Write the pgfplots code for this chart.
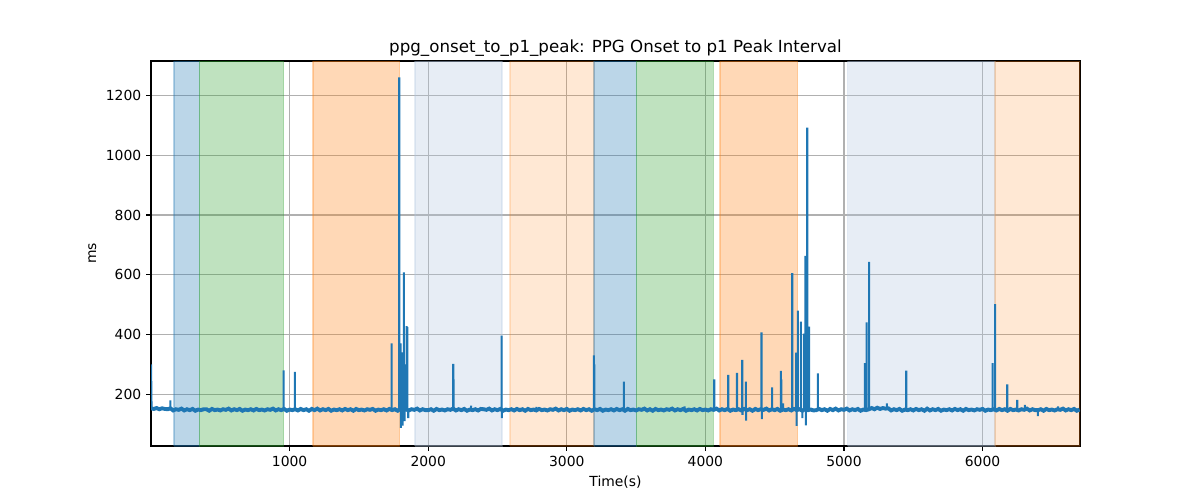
\documentclass[border=0pt]{standalone}
\usepackage{fontspec}
\setmainfont{DejaVu Sans}
\usepackage{pgfplots}
\pgfplotsset{compat=1.18}
\definecolor{tabblue}{HTML}{1F77B4}
\definecolor{tabgreen}{HTML}{2CA02C}
\definecolor{taborange}{HTML}{FF7F0E}
\definecolor{lsteel}{HTML}{B0C4DE}
\definecolor{gridgray}{HTML}{B0B0B0}
\begin{document}
\begin{tikzpicture}
\begin{axis}[
  at={(108.72pt,38.88pt)}, anchor=south west,
  scale only axis, width=668.88pt, height=277.2pt,
  xmin=0, xmax=6703, ymin=27, ymax=1315,
  xtick={1000,2000,3000,4000,5000,6000},
  ytick={200,400,600,800,1000,1200},
  /pgf/number format/assume math mode=true,
  /pgf/number format/1000 sep={},
  tick label style={font=\fontsize{10}{12}\selectfont},
  label style={font=\fontsize{10}{12}\selectfont},
  xlabel={Time(s)}, ylabel={ms},
  title={ppg\_onset\_to\_p1\_peak: PPG Onset to p1 Peak Interval},
  title style={font=\fontsize{12}{14}\selectfont, at={(0.5,1)}, anchor=south, yshift=-2.6pt, inner sep=0pt},
  grid=major,
  major grid style={color=gridgray, line width=0.8pt},
  axis line style={black, line width=0.8pt},
  tick style={black, line width=0.8pt},
  major tick length=3.5pt,
  tick align=outside,
  xtick pos=bottom, ytick pos=left,
  unbounded coords=jump,
]
% shaded spans
\addplot[draw=tabblue, draw opacity=0.3, line width=1pt, fill=tabblue, fill opacity=0.3] coordinates {(165,27)(348,27)(348,1315)(165,1315)(165,27)};
\addplot[draw=tabgreen, draw opacity=0.3, line width=1pt, fill=tabgreen, fill opacity=0.3] coordinates {(348,27)(957,27)(957,1315)(348,1315)(348,27)};
\addplot[draw=taborange, draw opacity=0.3, line width=1pt, fill=taborange, fill opacity=0.3] coordinates {(1168,27)(1794,27)(1794,1315)(1168,1315)(1168,27)};
\addplot[draw=lsteel, draw opacity=0.3, line width=1pt, fill=lsteel, fill opacity=0.3] coordinates {(1904,27)(2532,27)(2532,1315)(1904,1315)(1904,27)};
\addplot[draw=taborange, draw opacity=0.18, line width=1pt, fill=taborange, fill opacity=0.18] coordinates {(2590,27)(3196,27)(3196,1315)(2590,1315)(2590,27)};
\addplot[draw=tabblue, draw opacity=0.3, line width=1pt, fill=tabblue, fill opacity=0.3] coordinates {(3196,27)(3501,27)(3501,1315)(3196,1315)(3196,27)};
\addplot[draw=tabgreen, draw opacity=0.3, line width=1pt, fill=tabgreen, fill opacity=0.3] coordinates {(3501,27)(4058,27)(4058,1315)(3501,1315)(3501,27)};
\addplot[draw=taborange, draw opacity=0.3, line width=1pt, fill=taborange, fill opacity=0.3] coordinates {(4105,27)(4665,27)(4665,1315)(4105,1315)(4105,27)};
\addplot[draw=lsteel, draw opacity=0.3, line width=1pt, fill=lsteel, fill opacity=0.3] coordinates {(5026,27)(6091,27)(6091,1315)(5026,1315)(5026,27)};
\addplot[draw=taborange, draw opacity=0.18, line width=1pt, fill=taborange, fill opacity=0.18] coordinates {(6091,27)(6703,27)(6703,1315)(6091,1315)(6091,27)};
% baseline series (dense beat-to-beat band)
\addplot[tabblue, line width=2.8pt, mark=none] coordinates {
(0,153)(20,151)(40,154)(60,150)(80,153)(100,151)(120,150)(140,153)(160,146)(180,150)(200,148)(220,152)(240,146)(260,150)(280,147)(300,151)(320,145)(340,149)(360,147)(380,150)
(400,150)(420,145)(440,151)(460,147)(480,149)(500,146)(520,150)(540,148)(560,152)(580,146)(600,150)(620,147)(640,151)(660,145)(680,149)(700,147)(720,150)(740,146)(760,151)(780,147)
(800,149)(820,146)(840,150)(860,148)(880,152)(900,146)(920,150)(940,147)(960,151)(980,145)(1000,149)(1020,147)(1040,150)(1060,146)(1080,151)(1100,147)(1120,150)(1140,145)(1160,151)(1180,147)
(1200,152)(1220,146)(1240,150)(1260,147)(1280,151)(1300,145)(1320,149)(1340,147)(1360,150)(1380,146)(1400,151)(1420,147)(1440,150)(1460,145)(1480,151)(1500,147)(1520,149)(1540,146)(1560,150)(1580,148)
(1600,151)(1620,145)(1640,149)(1660,147)(1680,150)(1700,146)(1720,151)(1740,147)(1760,150)(1780,145)(1800,151)(1820,147)(1840,149)(1860,146)(1880,150)(1900,148)(1920,152)(1940,146)(1960,150)(1980,147)
(2000,147)(2020,150)(2040,145)(2060,151)(2080,147)(2100,149)(2120,146)(2140,150)(2160,148)(2180,152)(2200,146)(2220,150)(2240,147)(2260,151)(2280,145)(2300,149)(2320,147)(2340,150)(2360,146)(2380,151)
(2400,150)(2420,148)(2440,152)(2460,146)(2480,150)(2500,147)(2520,151)(2540,145)(2560,149)(2580,147)(2600,150)(2620,146)(2640,151)(2660,147)(2680,150)(2700,145)(2720,151)(2740,147)(2760,149)(2780,146)
(2800,151)(2820,147)(2840,149)(2860,146)(2880,150)(2900,148)(2920,152)(2940,146)(2960,150)(2980,147)(3000,151)(3020,145)(3040,149)(3060,147)(3080,150)(3100,146)(3120,151)(3140,147)(3160,150)(3180,145)
(3200,150)(3220,147)(3240,151)(3260,145)(3280,149)(3300,147)(3320,150)(3340,146)(3360,151)(3380,147)(3400,150)(3420,145)(3440,151)(3460,147)(3480,149)(3500,146)(3520,150)(3540,148)(3560,152)(3580,146)
(3600,150)(3620,145)(3640,151)(3660,147)(3680,149)(3700,146)(3720,150)(3740,148)(3760,152)(3780,146)(3800,150)(3820,147)(3840,151)(3860,145)(3880,149)(3900,147)(3920,150)(3940,146)(3960,151)(3980,147)
(4000,149)(4020,146)(4040,150)(4060,148)(4080,152)(4100,146)(4120,150)(4140,147)(4160,151)(4180,145)(4200,149)(4220,147)(4240,150)(4260,146)(4280,151)(4300,147)(4320,150)(4340,145)(4360,151)(4380,147)
(4400,150)(4420,148)(4440,152)(4460,146)(4480,150)(4500,147)(4520,151)(4540,145)(4560,149)(4580,147)(4600,150)(4620,146)(4640,151)(4660,147)(4680,150)(4700,145)(4720,151)(4740,147)(4760,149)(4780,146)
(4800,147)(4820,151)(4840,147)(4860,150)(4880,145)(4900,151)(4920,147)(4940,152)(4960,146)(4980,150)(5000,148)(5020,152)(5040,146)(5060,150)(5080,147)(5100,151)(5120,145)(5140,149)(5160,147)(5180,150)
(5200,154)(5220,150)(5240,155)(5260,151)(5280,154)(5300,152)(5320,153)(5340,146)(5360,150)(5380,147)(5400,151)(5420,145)(5440,149)(5460,147)(5480,150)(5500,146)(5520,151)(5540,147)(5560,150)(5580,145)
(5600,152)(5620,146)(5640,150)(5660,147)(5680,151)(5700,145)(5720,149)(5740,147)(5760,150)(5780,146)(5800,151)(5820,147)(5840,150)(5860,145)(5880,151)(5900,147)(5920,149)(5940,146)(5960,150)(5980,148)
(6000,151)(6020,145)(6040,149)(6060,147)(6080,150)(6100,146)(6120,151)(6140,147)(6160,150)(6180,145)(6200,151)(6220,147)(6240,149)(6260,146)(6280,150)(6300,148)(6320,152)(6340,146)(6360,150)(6380,147)
(6400,147)(6420,150)(6440,145)(6460,151)(6480,147)(6500,149)(6520,146)(6540,150)(6560,148)(6580,152)(6600,146)(6620,150)(6640,147)(6660,151)(6680,145)(6700,149)
};
% spikes (vertical excursions from the baseline)
\addplot[tabblue, line width=1.5pt, mark=none] coordinates {
(0,300)(4,150)(4,nan)
(140,148)(140,180)(140,nan)
(957,148)(957,280)(957,nan)
(1038,148)(1038,275)(1038,nan)
(1736,148)(1736,370)(1736,nan)
(1791,148)(1791,1260)(1791,nan)
(1800,148)(1800,370)(1800,nan)
(1803,148)(1803,88)(1803,nan)
(1810,148)(1810,340)(1810,nan)
(1815,148)(1815,95)(1815,nan)
(1825,148)(1825,608)(1825,nan)
(1830,148)(1830,110)(1830,nan)
(1838,148)(1838,300)(1838,nan)
(1844,148)(1844,428)(1844,nan)
(1850,148)(1850,425)(1850,nan)
(1856,148)(1856,120)(1856,nan)
(2181,148)(2181,302)(2181,nan)
(2183,148)(2183,250)(2183,nan)
(2310,148)(2310,162)(2310,nan)
(2530,148)(2530,396)(2530,nan)
(2532,148)(2532,120)(2532,nan)
(2780,148)(2780,158)(2780,nan)
(3196,148)(3196,330)(3196,nan)
(3198,148)(3198,300)(3198,nan)
(3412,148)(3412,242)(3412,nan)
(3850,148)(3850,160)(3850,nan)
(4064,148)(4064,250)(4064,nan)
(4165,148)(4165,265)(4165,nan)
(4228,148)(4228,272)(4228,nan)
(4266,148)(4266,315)(4266,nan)
(4268,148)(4268,131)(4268,nan)
(4292,148)(4292,242)(4292,nan)
(4294,148)(4294,112)(4294,nan)
(4405,148)(4405,407)(4405,nan)
(4408,148)(4408,117)(4408,nan)
(4482,148)(4482,223)(4482,nan)
(4545,148)(4545,278)(4545,nan)
(4548,148)(4548,250)(4548,nan)
(4560,148)(4560,170)(4560,nan)
(4627,148)(4627,605)(4627,nan)
(4655,148)(4655,339)(4655,nan)
(4658,148)(4658,94)(4658,nan)
(4667,148)(4667,480)(4667,nan)
(4689,148)(4689,443)(4689,nan)
(4700,148)(4700,120)(4700,nan)
(4711,148)(4711,403)(4711,nan)
(4721,148)(4721,663)(4721,nan)
(4725,148)(4725,96)(4725,nan)
(4735,148)(4735,1092)(4735,nan)
(4749,148)(4749,426)(4749,nan)
(4812,148)(4812,270)(4812,nan)
(5151,148)(5151,304)(5151,nan)
(5163,148)(5163,441)(5163,nan)
(5182,148)(5182,643)(5182,nan)
(5310,148)(5310,170)(5310,nan)
(5449,148)(5449,279)(5449,nan)
(6072,148)(6072,304)(6072,nan)
(6091,148)(6091,502)(6091,nan)
(6178,148)(6178,233)(6178,nan)
(6250,148)(6250,181)(6250,nan)
(6305,148)(6305,165)(6305,nan)
(6399,148)(6399,127)(6399,nan)
(6545,148)(6545,160)(6545,nan)
};
\end{axis}
\useasboundingbox (0,0) rectangle (864pt,360pt);
\end{tikzpicture}
\end{document}
